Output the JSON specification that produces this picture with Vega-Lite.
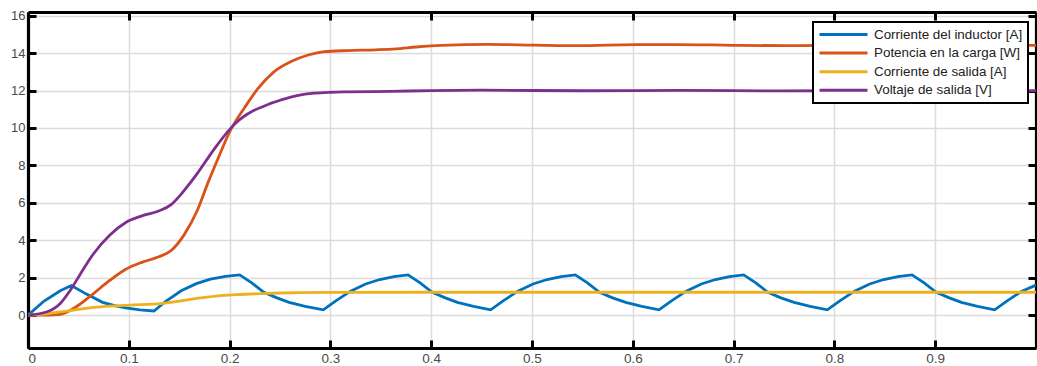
{
  "$schema": "https://vega.github.io/schema/vega-lite/v6.json",
  "width": 1008,
  "height": 336,
  "autosize": {"type": "none"},
  "padding": {"left": 28, "top": 12, "right": 1, "bottom": 18},
  "background": "white",
  "config": {
    "view": {"stroke": null},
    "axis": {
      "domainColor": "black",
      "domainWidth": 3.2,
      "tickColor": "black",
      "tickWidth": 3,
      "tickSize": -8,
      "labelFont": "Liberation Sans",
      "labelFontSize": 13,
      "labelColor": "#4a4a4a",
      "gridColor": "#dcdcdc",
      "gridWidth": 1.5,
      "title": null
    }
  },
  "data": {
    "values": [
      {"t": 0, "s": "Corriente del inductor [A]", "v": 0},
      {"t": 0.016, "s": "Corriente del inductor [A]", "v": 0.75},
      {"t": 0.032, "s": "Corriente del inductor [A]", "v": 1.3},
      {"t": 0.043, "s": "Corriente del inductor [A]", "v": 1.58},
      {"t": 0.058, "s": "Corriente del inductor [A]", "v": 1.12},
      {"t": 0.074, "s": "Corriente del inductor [A]", "v": 0.68},
      {"t": 0.086, "s": "Corriente del inductor [A]", "v": 0.5},
      {"t": 0.097, "s": "Corriente del inductor [A]", "v": 0.38},
      {"t": 0.111, "s": "Corriente del inductor [A]", "v": 0.28},
      {"t": 0.125, "s": "Corriente del inductor [A]", "v": 0.22},
      {"t": 0.137, "s": "Corriente del inductor [A]", "v": 0.75},
      {"t": 0.152, "s": "Corriente del inductor [A]", "v": 1.3},
      {"t": 0.167, "s": "Corriente del inductor [A]", "v": 1.68},
      {"t": 0.181, "s": "Corriente del inductor [A]", "v": 1.92},
      {"t": 0.196, "s": "Corriente del inductor [A]", "v": 2.07},
      {"t": 0.21, "s": "Corriente del inductor [A]", "v": 2.15},
      {"t": 0.222, "s": "Corriente del inductor [A]", "v": 1.72},
      {"t": 0.234, "s": "Corriente del inductor [A]", "v": 1.22},
      {"t": 0.247, "s": "Corriente del inductor [A]", "v": 0.92},
      {"t": 0.259, "s": "Corriente del inductor [A]", "v": 0.68},
      {"t": 0.275, "s": "Corriente del inductor [A]", "v": 0.46},
      {"t": 0.293, "s": "Corriente del inductor [A]", "v": 0.28},
      {"t": 0.305, "s": "Corriente del inductor [A]", "v": 0.75},
      {"t": 0.32, "s": "Corriente del inductor [A]", "v": 1.28},
      {"t": 0.335, "s": "Corriente del inductor [A]", "v": 1.66},
      {"t": 0.349, "s": "Corriente del inductor [A]", "v": 1.9},
      {"t": 0.363, "s": "Corriente del inductor [A]", "v": 2.06},
      {"t": 0.377, "s": "Corriente del inductor [A]", "v": 2.15},
      {"t": 0.389, "s": "Corriente del inductor [A]", "v": 1.72},
      {"t": 0.401, "s": "Corriente del inductor [A]", "v": 1.22},
      {"t": 0.414, "s": "Corriente del inductor [A]", "v": 0.92},
      {"t": 0.426, "s": "Corriente del inductor [A]", "v": 0.68},
      {"t": 0.442, "s": "Corriente del inductor [A]", "v": 0.46},
      {"t": 0.459, "s": "Corriente del inductor [A]", "v": 0.28},
      {"t": 0.471, "s": "Corriente del inductor [A]", "v": 0.75},
      {"t": 0.486, "s": "Corriente del inductor [A]", "v": 1.28},
      {"t": 0.501, "s": "Corriente del inductor [A]", "v": 1.66},
      {"t": 0.515, "s": "Corriente del inductor [A]", "v": 1.9},
      {"t": 0.529, "s": "Corriente del inductor [A]", "v": 2.06},
      {"t": 0.543, "s": "Corriente del inductor [A]", "v": 2.15},
      {"t": 0.555, "s": "Corriente del inductor [A]", "v": 1.72},
      {"t": 0.567, "s": "Corriente del inductor [A]", "v": 1.22},
      {"t": 0.58, "s": "Corriente del inductor [A]", "v": 0.92},
      {"t": 0.593, "s": "Corriente del inductor [A]", "v": 0.68},
      {"t": 0.609, "s": "Corriente del inductor [A]", "v": 0.46},
      {"t": 0.626, "s": "Corriente del inductor [A]", "v": 0.28},
      {"t": 0.638, "s": "Corriente del inductor [A]", "v": 0.75},
      {"t": 0.653, "s": "Corriente del inductor [A]", "v": 1.28},
      {"t": 0.668, "s": "Corriente del inductor [A]", "v": 1.66},
      {"t": 0.682, "s": "Corriente del inductor [A]", "v": 1.9},
      {"t": 0.696, "s": "Corriente del inductor [A]", "v": 2.06},
      {"t": 0.71, "s": "Corriente del inductor [A]", "v": 2.15},
      {"t": 0.722, "s": "Corriente del inductor [A]", "v": 1.72},
      {"t": 0.734, "s": "Corriente del inductor [A]", "v": 1.22},
      {"t": 0.747, "s": "Corriente del inductor [A]", "v": 0.92},
      {"t": 0.76, "s": "Corriente del inductor [A]", "v": 0.68},
      {"t": 0.776, "s": "Corriente del inductor [A]", "v": 0.46},
      {"t": 0.793, "s": "Corriente del inductor [A]", "v": 0.28},
      {"t": 0.805, "s": "Corriente del inductor [A]", "v": 0.75},
      {"t": 0.82, "s": "Corriente del inductor [A]", "v": 1.28},
      {"t": 0.835, "s": "Corriente del inductor [A]", "v": 1.66},
      {"t": 0.849, "s": "Corriente del inductor [A]", "v": 1.9},
      {"t": 0.863, "s": "Corriente del inductor [A]", "v": 2.06},
      {"t": 0.877, "s": "Corriente del inductor [A]", "v": 2.15},
      {"t": 0.889, "s": "Corriente del inductor [A]", "v": 1.72},
      {"t": 0.901, "s": "Corriente del inductor [A]", "v": 1.22},
      {"t": 0.914, "s": "Corriente del inductor [A]", "v": 0.92},
      {"t": 0.926, "s": "Corriente del inductor [A]", "v": 0.68},
      {"t": 0.942, "s": "Corriente del inductor [A]", "v": 0.46},
      {"t": 0.959, "s": "Corriente del inductor [A]", "v": 0.28},
      {"t": 0.971, "s": "Corriente del inductor [A]", "v": 0.75},
      {"t": 0.986, "s": "Corriente del inductor [A]", "v": 1.28},
      {"t": 1.0, "s": "Corriente del inductor [A]", "v": 1.6},

      {"t": 0, "s": "Potencia en la carga [W]", "v": 0},
      {"t": 0.02, "s": "Potencia en la carga [W]", "v": 0.0},
      {"t": 0.032, "s": "Potencia en la carga [W]", "v": 0.04},
      {"t": 0.042, "s": "Potencia en la carga [W]", "v": 0.25},
      {"t": 0.052, "s": "Potencia en la carga [W]", "v": 0.6},
      {"t": 0.065, "s": "Potencia en la carga [W]", "v": 1.15},
      {"t": 0.081, "s": "Potencia en la carga [W]", "v": 1.85},
      {"t": 0.097, "s": "Potencia en la carga [W]", "v": 2.45},
      {"t": 0.113, "s": "Potencia en la carga [W]", "v": 2.82},
      {"t": 0.129, "s": "Potencia en la carga [W]", "v": 3.1},
      {"t": 0.142, "s": "Potencia en la carga [W]", "v": 3.45},
      {"t": 0.155, "s": "Potencia en la carga [W]", "v": 4.3},
      {"t": 0.168, "s": "Potencia en la carga [W]", "v": 5.6},
      {"t": 0.178, "s": "Potencia en la carga [W]", "v": 7.0},
      {"t": 0.188, "s": "Potencia en la carga [W]", "v": 8.3},
      {"t": 0.201, "s": "Potencia en la carga [W]", "v": 9.9},
      {"t": 0.215, "s": "Potencia en la carga [W]", "v": 11.1},
      {"t": 0.228, "s": "Potencia en la carga [W]", "v": 12.1},
      {"t": 0.244, "s": "Potencia en la carga [W]", "v": 13.0},
      {"t": 0.261, "s": "Potencia en la carga [W]", "v": 13.55},
      {"t": 0.278, "s": "Potencia en la carga [W]", "v": 13.9},
      {"t": 0.294, "s": "Potencia en la carga [W]", "v": 14.08},
      {"t": 0.317, "s": "Potencia en la carga [W]", "v": 14.14},
      {"t": 0.345, "s": "Potencia en la carga [W]", "v": 14.18},
      {"t": 0.365, "s": "Potencia en la carga [W]", "v": 14.23},
      {"t": 0.385, "s": "Potencia en la carga [W]", "v": 14.33},
      {"t": 0.41, "s": "Potencia en la carga [W]", "v": 14.42},
      {"t": 0.457, "s": "Potencia en la carga [W]", "v": 14.47},
      {"t": 0.503, "s": "Potencia en la carga [W]", "v": 14.43},
      {"t": 0.546, "s": "Potencia en la carga [W]", "v": 14.4},
      {"t": 0.602, "s": "Potencia en la carga [W]", "v": 14.46},
      {"t": 0.645, "s": "Potencia en la carga [W]", "v": 14.46},
      {"t": 0.7, "s": "Potencia en la carga [W]", "v": 14.42},
      {"t": 0.75, "s": "Potencia en la carga [W]", "v": 14.4},
      {"t": 0.8, "s": "Potencia en la carga [W]", "v": 14.43},
      {"t": 0.85, "s": "Potencia en la carga [W]", "v": 14.45},
      {"t": 0.9, "s": "Potencia en la carga [W]", "v": 14.45},
      {"t": 0.95, "s": "Potencia en la carga [W]", "v": 14.44},
      {"t": 1.0, "s": "Potencia en la carga [W]", "v": 14.42},

      {"t": 0, "s": "Corriente de salida [A]", "v": 0},
      {"t": 0.016, "s": "Corriente de salida [A]", "v": 0.05},
      {"t": 0.032, "s": "Corriente de salida [A]", "v": 0.17},
      {"t": 0.05, "s": "Corriente de salida [A]", "v": 0.3},
      {"t": 0.065, "s": "Corriente de salida [A]", "v": 0.41},
      {"t": 0.081, "s": "Corriente de salida [A]", "v": 0.48},
      {"t": 0.097, "s": "Corriente de salida [A]", "v": 0.52},
      {"t": 0.113, "s": "Corriente de salida [A]", "v": 0.56},
      {"t": 0.129, "s": "Corriente de salida [A]", "v": 0.6},
      {"t": 0.145, "s": "Corriente de salida [A]", "v": 0.7},
      {"t": 0.161, "s": "Corriente de salida [A]", "v": 0.84},
      {"t": 0.178, "s": "Corriente de salida [A]", "v": 0.96},
      {"t": 0.194, "s": "Corriente de salida [A]", "v": 1.05},
      {"t": 0.21, "s": "Corriente de salida [A]", "v": 1.1},
      {"t": 0.23, "s": "Corriente de salida [A]", "v": 1.15},
      {"t": 0.25, "s": "Corriente de salida [A]", "v": 1.18},
      {"t": 0.27, "s": "Corriente de salida [A]", "v": 1.2},
      {"t": 0.3, "s": "Corriente de salida [A]", "v": 1.21},
      {"t": 0.4, "s": "Corriente de salida [A]", "v": 1.22},
      {"t": 0.6, "s": "Corriente de salida [A]", "v": 1.22},
      {"t": 0.8, "s": "Corriente de salida [A]", "v": 1.22},
      {"t": 1.0, "s": "Corriente de salida [A]", "v": 1.22},

      {"t": 0, "s": "Voltaje de salida [V]", "v": 0},
      {"t": 0.019, "s": "Voltaje de salida [V]", "v": 0.18},
      {"t": 0.032, "s": "Voltaje de salida [V]", "v": 0.62},
      {"t": 0.042, "s": "Voltaje de salida [V]", "v": 1.33},
      {"t": 0.052, "s": "Voltaje de salida [V]", "v": 2.2},
      {"t": 0.065, "s": "Voltaje de salida [V]", "v": 3.28},
      {"t": 0.081, "s": "Voltaje de salida [V]", "v": 4.27},
      {"t": 0.097, "s": "Voltaje de salida [V]", "v": 4.95},
      {"t": 0.113, "s": "Voltaje de salida [V]", "v": 5.3},
      {"t": 0.129, "s": "Voltaje de salida [V]", "v": 5.55},
      {"t": 0.142, "s": "Voltaje de salida [V]", "v": 5.9},
      {"t": 0.151, "s": "Voltaje de salida [V]", "v": 6.4},
      {"t": 0.16, "s": "Voltaje de salida [V]", "v": 7.0},
      {"t": 0.168, "s": "Voltaje de salida [V]", "v": 7.57},
      {"t": 0.184, "s": "Voltaje de salida [V]", "v": 8.82},
      {"t": 0.201, "s": "Voltaje de salida [V]", "v": 9.98},
      {"t": 0.209, "s": "Voltaje de salida [V]", "v": 10.4},
      {"t": 0.217, "s": "Voltaje de salida [V]", "v": 10.72},
      {"t": 0.225, "s": "Voltaje de salida [V]", "v": 10.96},
      {"t": 0.234, "s": "Voltaje de salida [V]", "v": 11.16},
      {"t": 0.242, "s": "Voltaje de salida [V]", "v": 11.34},
      {"t": 0.251, "s": "Voltaje de salida [V]", "v": 11.5},
      {"t": 0.267, "s": "Voltaje de salida [V]", "v": 11.73},
      {"t": 0.284, "s": "Voltaje de salida [V]", "v": 11.86},
      {"t": 0.301, "s": "Voltaje de salida [V]", "v": 11.91},
      {"t": 0.317, "s": "Voltaje de salida [V]", "v": 11.93},
      {"t": 0.36, "s": "Voltaje de salida [V]", "v": 11.96},
      {"t": 0.4, "s": "Voltaje de salida [V]", "v": 12.0},
      {"t": 0.45, "s": "Voltaje de salida [V]", "v": 12.02},
      {"t": 0.55, "s": "Voltaje de salida [V]", "v": 11.99},
      {"t": 0.65, "s": "Voltaje de salida [V]", "v": 12.01},
      {"t": 0.75, "s": "Voltaje de salida [V]", "v": 11.98},
      {"t": 0.85, "s": "Voltaje de salida [V]", "v": 12.0},
      {"t": 1.0, "s": "Voltaje de salida [V]", "v": 12.0}
    ]
  },
  "layer": [
    {
      "transform": [{"filter": "datum.s === 'Corriente del inductor [A]'"}],
      "mark": {"type": "line", "strokeWidth": 2.8, "interpolate": "linear", "clip": true},
      "encoding": {
        "x": {
          "field": "t", "type": "quantitative",
          "scale": {"domain": [0, 1], "nice": false, "zero": false},
          "axis": {"orient": "bottom", "values": [0, 0.1, 0.2, 0.3, 0.4, 0.5, 0.6, 0.7, 0.8, 0.9], "format": "~g", "grid": true, "labelPadding": 11, "labelFontSize": 13.5}
        },
        "y": {
          "field": "v", "type": "quantitative",
          "scale": {"domain": [-1.76, 16.2], "nice": false, "zero": false},
          "axis": {"orient": "left", "values": [0, 2, 4, 6, 8, 10, 12, 14, 16], "grid": true, "labelPadding": 11}
        },
        "color": {
          "field": "s", "type": "nominal",
          "scale": {
            "domain": ["Corriente del inductor [A]", "Potencia en la carga [W]", "Corriente de salida [A]", "Voltaje de salida [V]"],
            "range": ["#0072BD", "#D95319", "#EDB120", "#7E2F8E"]
          },
          "legend": {
            "title": null,
            "orient": "none",
            "legendX": 785,
            "legendY": 10,
            "symbolType": "stroke",
            "symbolSize": 2304,
            "symbolStrokeWidth": 3,
            "labelFont": "Liberation Sans",
            "labelFontSize": 13.4,
            "labelColor": "#222222",
            "labelOffset": 5,
            "clipHeight": 15,
            "rowPadding": 3.6,
            "padding": 5,
            "strokeColor": "black",
            "fillColor": "white",
            "encode": {"legend": {"update": {"strokeWidth": {"value": 2}}}}
          }
        }
      }
    },
    {
      "transform": [{"filter": "datum.s !== 'Corriente del inductor [A]'"}],
      "mark": {"type": "line", "strokeWidth": 2.8, "interpolate": "monotone", "clip": true},
      "encoding": {
        "x": {
          "field": "t", "type": "quantitative",
          "axis": {"orient": "top", "values": [0, 0.1, 0.2, 0.3, 0.4, 0.5, 0.6, 0.7, 0.8, 0.9], "labels": false, "grid": false}
        },
        "y": {
          "field": "v", "type": "quantitative",
          "axis": {"orient": "right", "values": [0, 2, 4, 6, 8, 10, 12, 14, 16], "labels": false, "grid": false}
        },
        "color": {"field": "s", "type": "nominal"}
      }
    }
  ],
  "resolve": {"axis": {"x": "independent", "y": "independent"}}
}
